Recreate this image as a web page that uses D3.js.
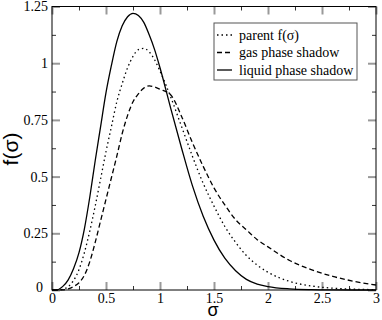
<!DOCTYPE html>
<html lang="en">
<head>
  <meta charset="UTF-8">
  <title>f(sigma)</title>
  <script src="https://cdn.jsdelivr.net/npm/d3@7"></script>
</head>
<body>
<style>
  * { padding: 0; margin: 0; }
  body { background: #fff; }
  #app { width: 382px; height: 320px; }
  .tick text { font-family: "Liberation Serif", "DejaVu Serif", serif; font-size: 14px; fill: #000; }
  .major line { stroke: #999; stroke-width: 2; }
  .minor line { stroke: #333; stroke-width: 1; }
  .domain { display: none; }
  .legend text { font-family: "Liberation Serif", "DejaVu Serif", serif; font-size: 14px; }
  .title { font-family: "Liberation Sans", "DejaVu Sans", sans-serif; }
</style>

<div id="app"></div>

<script>
  // sigma grid shared by all curves
  const sigma = [0, 0.05, 0.1, 0.15, 0.2, 0.25, 0.3, 0.35, 0.4, 0.45, 0.5, 0.55, 0.6, 0.65, 0.7, 0.75,
    0.8, 0.85, 0.9, 0.95, 1.0, 1.1, 1.2, 1.3, 1.4, 1.5, 1.6, 1.7, 1.8, 1.9, 2.0, 2.2, 2.4, 2.6, 2.8, 3.0];

  const parent = [0, 0.0001, 0.003, 0.015, 0.042, 0.09, 0.165, 0.26, 0.37, 0.49, 0.61, 0.72, 0.83, 0.91, 0.98, 1.03,
    1.06, 1.065, 1.05, 1.015, 0.965, 0.85, 0.72, 0.59, 0.47, 0.37, 0.28, 0.21, 0.152, 0.11, 0.078, 0.038, 0.018, 0.008, 0.0035, 0.0015];

  const gas = [0, 0, 0.001, 0.005, 0.015, 0.032, 0.065, 0.125, 0.21, 0.305, 0.4, 0.495, 0.59, 0.69, 0.77, 0.83,
    0.865, 0.89, 0.9, 0.895, 0.885, 0.86, 0.765, 0.65, 0.545, 0.45, 0.375, 0.31, 0.265, 0.222, 0.19, 0.13, 0.09, 0.06, 0.038, 0.022];

  const liquid = [0, 0.001, 0.016, 0.045, 0.095, 0.165, 0.27, 0.41, 0.57, 0.72, 0.87, 0.99, 1.095, 1.165, 1.205, 1.22,
    1.21, 1.18, 1.125, 1.06, 0.98, 0.8, 0.625, 0.46, 0.325, 0.22, 0.14, 0.085, 0.047, 0.026, 0.015, 0.005, 0.0015, 0.0004, 0.0001, 0];

  const xTicks = [0, 0.5, 1, 1.5, 2, 2.5, 3];
  const yTicks = [0, 0.25, 0.5, 0.75, 1, 1.25];
  const xMinor = [0.25, 0.75, 1.25, 1.75, 2.25, 2.75];
  const yMinor = [0.125, 0.375, 0.625, 0.875, 1.125];

  const series = [
    {name: "parent f(\u03c3)", values: parent, dash: "1.5,3"},
    {name: "gas phase shadow", values: gas, dash: "5,3"},
    {name: "liquid phase shadow", values: liquid, dash: null}
  ];

  let $width = 382, $height = 320;
  const m = {left: 52, right: 6, top: 6.5, bottom: 30};
  const w = $width - m.left - m.right, h = $height - m.top - m.bottom;

  const svg = d3.select("#app").append("svg").attr("width", $width).attr("height", $height);
  const g = svg.append("g").attr("transform", "translate(" + m.left + "," + m.top + ")");

  const scaleX = d3.scaleLinear().domain([0, 3]).range([0, w]);
  const scaleY = d3.scaleLinear().domain([0, 1.25]).range([h, 0]);

  const fmt = d => String(d);

  // ticks, all pointing inward
  g.append("g").attr("class", "minor").attr("transform", "translate(0," + h + ")")
    .call(d3.axisBottom(scaleX).tickValues(xMinor).tickSize(-4).tickFormat(""));
  g.append("g").attr("class", "minor")
    .call(d3.axisTop(scaleX).tickValues(xMinor).tickSize(-4).tickFormat(""));
  g.append("g").attr("class", "minor")
    .call(d3.axisLeft(scaleY).tickValues(yMinor).tickSize(-4).tickFormat(""));
  g.append("g").attr("class", "minor").attr("transform", "translate(" + w + ",0)")
    .call(d3.axisRight(scaleY).tickValues(yMinor).tickSize(-4).tickFormat(""));

  g.append("g").attr("class", "major").attr("transform", "translate(0," + h + ")")
    .call(d3.axisBottom(scaleX).tickValues(xTicks).tickSize(-8).tickPadding(3).tickFormat(fmt));
  g.append("g").attr("class", "major")
    .call(d3.axisTop(scaleX).tickValues(xTicks).tickSize(-8).tickFormat(""));
  g.append("g").attr("class", "major y")
    .call(d3.axisLeft(scaleY).tickValues(yTicks).tickSize(-8).tickPadding(4).tickFormat(fmt));
  g.append("g").attr("class", "major").attr("transform", "translate(" + w + ",0)")
    .call(d3.axisRight(scaleY).tickValues(yTicks).tickSize(-8).tickFormat(""));

  // the zero label sits a bit off the corner
  g.select(".y").selectAll(".tick").filter(d => d === 0).select("text").attr("x", -9).attr("dy", "0.1em");

  // frame
  g.append("rect").attr("width", w).attr("height", h)
    .attr("fill", "none").attr("stroke", "#000").attr("stroke-width", 1);

  // curves
  const line = d3.line()
    .x((d, i) => scaleX(sigma[i]))
    .y(d => scaleY(d))
    .curve(d3.curveMonotoneX);

  g.selectAll("path.curve").data(series).enter().append("path")
    .attr("class", "curve")
    .attr("d", d => line(d.values))
    .attr("fill", "none").attr("stroke", "#000").attr("stroke-width", 1.3)
    .attr("stroke-dasharray", d => d.dash);

  // legend
  const lg = svg.append("g").attr("class", "legend").attr("transform", "translate(214,23)");
  lg.append("rect").attr("width", 143).attr("height", 57)
    .attr("fill", "#fff").attr("stroke", "#555").attr("stroke-width", 1);
  const row = lg.selectAll("g.row").data(series).enter().append("g")
    .attr("transform", (d, i) => "translate(0," + (12 + i * 17.5) + ")");
  row.append("line").attr("x1", 3).attr("x2", 18).attr("y1", 0).attr("y2", 0)
    .attr("stroke", "#000").attr("stroke-width", 1.3).attr("stroke-dasharray", d => d.dash);
  row.append("text").attr("x", 25).attr("y", 4.5).text(d => d.name);

  // axis titles
  svg.append("text").attr("class", "title").attr("x", m.left + w * 0.497).attr("y", 316)
    .attr("text-anchor", "middle").style("font-size", "18px").text("\u03c3");
  svg.append("text").attr("class", "title").attr("transform", "translate(18,149) rotate(-90)")
    .attr("text-anchor", "middle").style("font-size", "21px").text("f(\u03c3)");
</script>
</body>
</html>
